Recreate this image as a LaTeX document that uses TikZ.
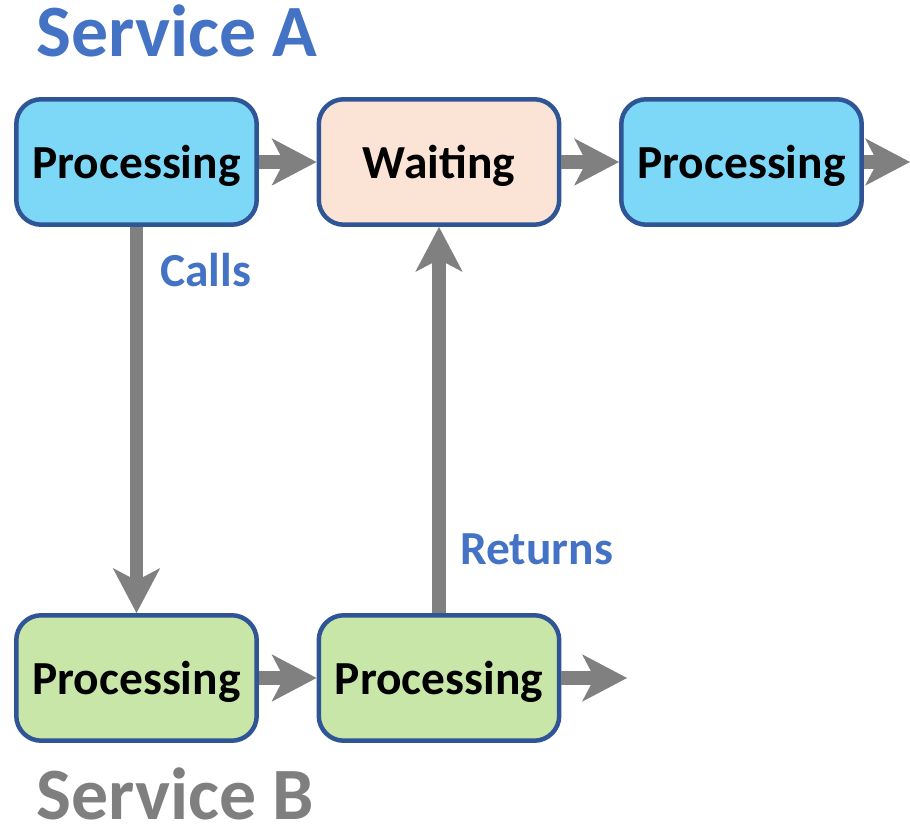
\documentclass[tikz,border=0pt]{standalone}
\usepackage{fontspec}
\setmainfont{Carlito}
\usetikzlibrary{arrows.meta}
\definecolor{boxline}{HTML}{2F5597}
\definecolor{procblue}{HTML}{7DD7F7}
\definecolor{waitpeach}{HTML}{FBE3D6}
\definecolor{procgreen}{HTML}{C8E6A8}
\definecolor{flowgray}{HTML}{808080}
\definecolor{labelblue}{HTML}{4472C4}
\definecolor{servgray}{HTML}{7F7F7F}

\begin{document}
\begin{tikzpicture}[x=0.02cm, y=-0.02cm,
    state/.style={draw=boxline, line width=0.09cm, rounded corners=0.5cm,
        minimum width=4.81cm, minimum height=2.51cm, text depth=0pt,
        font=\fontsize{27}{32}\selectfont\bfseries},
    flow/.style={draw=flowgray, line width=0.28cm,
        -{Stealth[length=0.9cm, width=0.95cm, inset=0.25cm, line width=0pt]}},
    callout/.style={text=labelblue, inner sep=0pt, anchor=base west,
        font=\fontsize{27}{32}\selectfont\bfseries},
    service/.style={inner sep=0pt, anchor=base west, text depth=0pt,
        font=\fontsize{42}{48}\selectfont\bfseries}]
    \useasboundingbox (0,0) rectangle (910,830);

    % Service A
    \node[service, text=labelblue] (servA) at (36,57) {Service A};
    \node[state, fill=procblue] (a1) at (136.5,162) {Processing};
    \node[state, fill=waitpeach] (a2) at (439,162) {Waiting};
    \node[state, fill=procblue] (a3) at (741.5,162) {Processing};
    \coordinate (aend) at (910,162);

    % Service B
    \node[state, fill=procgreen] (b1) at (136.5,678) {Processing};
    \node[state, fill=procgreen] (b2) at (439,678) {Processing};
    \coordinate (bend) at (627,678);
    \node[service, text=servgray] (servB) at (36,820) {Service B};

    % flow along each service
    \draw[flow] (a1.east) -- (a2.west);
    \draw[flow] (a2.east) -- (a3.west);
    \draw[flow] (a3.east) -- (aend);
    \draw[flow] (b1.east) -- (b2.west);
    \draw[flow] (b2.east) -- (bend);

    % call and return
    \draw[flow] (a1.south) -- (b1.north);
    \draw[flow] (b2.north) -- (a2.south);
    \node[callout] (calls) at (160,287) {Calls};
    \node[callout] (returns) at (460,565) {Returns};
\end{tikzpicture}
\end{document}
